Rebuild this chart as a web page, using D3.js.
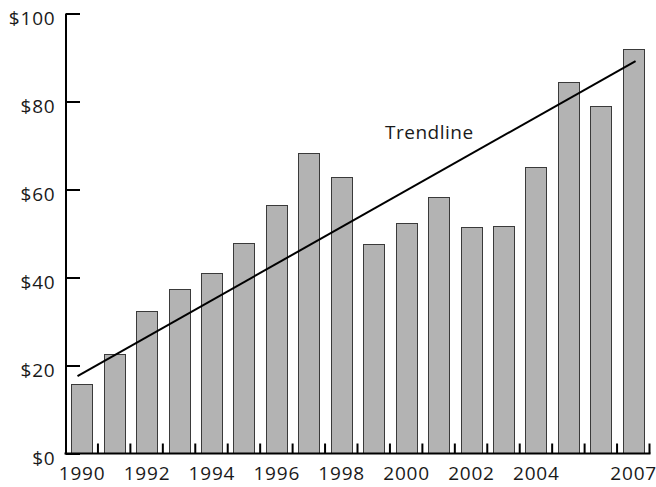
<!DOCTYPE html>
<html>
<head>
<meta charset="utf-8">
<script src="https://cdn.jsdelivr.net/npm/d3@7"></script>
<style>
  html, body { margin: 0; padding: 0; background: #fff; }
  svg { display: block; }
  text { font-family: "Open Sans", sans-serif; fill: #1a1a1a; }
</style>
</head>
<body>
<svg id="chart" width="656" height="487"></svg>
<script>
// Annual values, 1990–2007 (dollars)
const years = [1990, 1991, 1992, 1993, 1994, 1995, 1996, 1997, 1998,
               1999, 2000, 2001, 2002, 2003, 2004, 2005, 2006, 2007];
const values = [15.9, 22.7, 32.3, 37.3, 41.0, 47.9, 56.4, 68.4, 62.9,
                47.7, 52.5, 58.2, 51.4, 51.7, 65.1, 84.5, 79.0, 91.9];

// Trendline endpoints (year position, value)
const trendYears = [1989.87, 2007.07];
const trendValues = [17.6, 89.2];
const trendLabel = "Trendline";

// Axis ticks
const yTicks = [0, 20, 40, 60, 80, 100];
const xLabelYears = [1990, 1992, 1994, 1996, 1998, 2000, 2002, 2004, 2007];

const svg = d3.select("#chart");

const plotLeft = 65.5, plotRight = 649.5, plotTop = 13.5, plotBottom = 453.5;

const x = d3.scaleBand()
  .domain(years)
  .range([plotLeft, plotRight])
  .paddingInner(0.35)
  .paddingOuter(0.175);

const y = d3.scaleLinear().domain([0, 100]).range([plotBottom, plotTop]);

// continuous year position through band centres, for the trendline
const xYear = d3.scaleLinear()
  .domain([years[0], years[years.length - 1]])
  .range([x(years[0]) + x.bandwidth() / 2, x(years[years.length - 1]) + x.bandwidth() / 2]);

// Bars
svg.append("g")
  .selectAll("rect")
  .data(years.map((yr, i) => ({ yr, v: values[i] })))
  .join("rect")
  .attr("x", d => Math.round(x(d.yr)) + 0.5)
  .attr("y", d => Math.round(y(d.v)) + 0.5)
  .attr("width", Math.round(x.bandwidth()))
  .attr("height", d => plotBottom - Math.round(y(d.v)) - 0.5)
  .attr("fill", "#b3b3b3")
  .attr("stroke", "#3a3a3a")
  .attr("stroke-width", 1);

// Y axis
const yAxis = d3.axisLeft(y)
  .tickValues(yTicks)
  .tickFormat(d => "$" + d)
  .tickSizeInner(-14.5)
  .tickSizeOuter(0)
  .tickPadding(10);

const gy = svg.append("g")
  .attr("transform", `translate(${plotLeft},0)`)
  .call(yAxis);
gy.select(".domain").attr("stroke", "#000").attr("stroke-width", 2);
gy.selectAll(".tick line").attr("stroke", "#000").attr("stroke-width", 2);
gy.selectAll(".tick text")
  .attr("font-size", 19)
  .attr("font-family", "Open Sans, sans-serif")
  .attr("fill", "#1a1a1a")
  .attr("letter-spacing", "0.8px")
  .attr("dy", "0.6em");

// X axis: baseline with ticks at band boundaries
const gx = svg.append("g");
gx.append("line")
  .attr("x1", plotLeft - 1).attr("x2", plotRight + 1)
  .attr("y1", plotBottom).attr("y2", plotBottom)
  .attr("stroke", "#000").attr("stroke-width", 2);

const boundaries = years.slice(1).map(yr => x(yr) - x.step() * x.paddingInner() / 2);
boundaries.push(plotRight);
gx.selectAll("line.tick")
  .data(boundaries)
  .join("line")
  .attr("class", "tick")
  .attr("x1", d => d).attr("x2", d => d)
  .attr("y1", plotBottom).attr("y2", plotBottom - 10)
  .attr("stroke", "#000").attr("stroke-width", 2);

gx.selectAll("text")
  .data(xLabelYears)
  .join("text")
  .attr("x", d => x(d) + x.bandwidth() / 2 + 0.4)
  .attr("y", 480)
  .attr("text-anchor", "middle")
  .attr("font-size", 19)
  .attr("letter-spacing", "0.8px")
  .text(d => d);

// Trendline
svg.append("line")
  .attr("x1", xYear(trendYears[0])).attr("y1", y(trendValues[0]))
  .attr("x2", xYear(trendYears[1])).attr("y2", y(trendValues[1]))
  .attr("stroke", "#000")
  .attr("stroke-width", 2);

svg.append("text")
  .attr("x", 385)
  .attr("y", 139)
  .attr("font-size", 19)
  .attr("letter-spacing", "0.5px")
  .text(trendLabel);
</script>
</body>
</html>
